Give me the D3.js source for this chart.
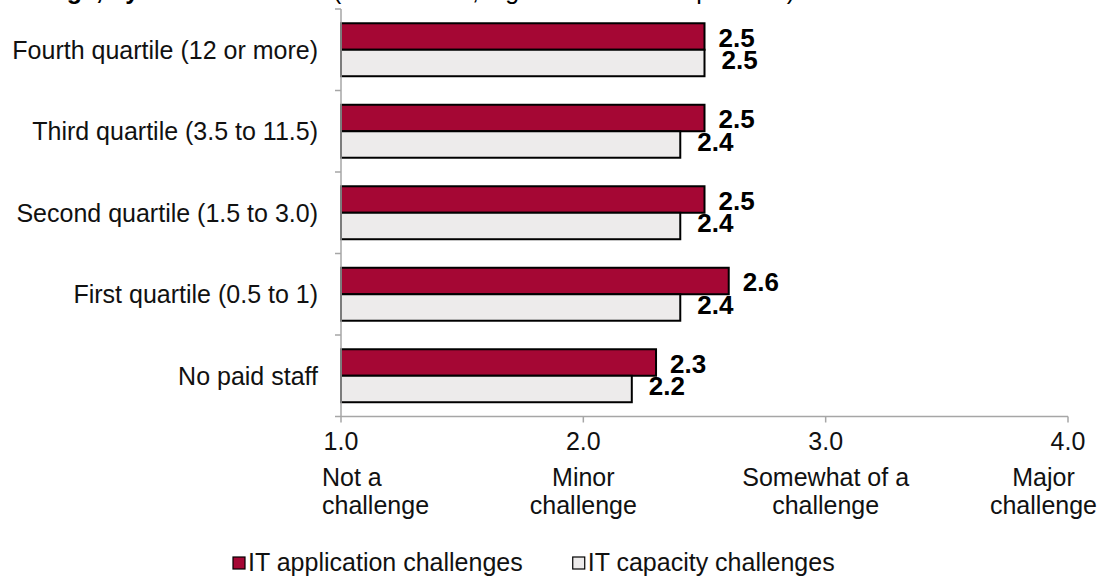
<!DOCTYPE html>
<html>
<head>
<meta charset="utf-8">
<script src="https://cdn.jsdelivr.net/npm/d3@7"></script>
<style>
    body { margin: 0; background: #fff; }
    svg { display: block; font-family: "Liberation Sans", Arial, sans-serif; }
    .axis-line { stroke: #a6a6a6; stroke-width: 1.5; fill: none; }
</style>
</head>
<body>
<svg id="chart" width="1101" height="577"></svg>
<script>
(function() {
    var categories = [
        "Fourth quartile (12 or more)",
        "Third quartile (3.5 to 11.5)",
        "Second quartile (1.5 to 3.0)",
        "First quartile (0.5 to 1)",
        "No paid staff"
    ];
    var applicationValues = [2.5, 2.5, 2.5, 2.6, 2.3];
    var capacityValues = [2.5, 2.4, 2.4, 2.4, 2.2];
    var seriesNames = ["IT application challenges", "IT capacity challenges"];
    var tickValues = [1, 2, 3, 4];
    var tickLabels = [
        ["Not a", "challenge"],
        ["Minor", "challenge"],
        ["Somewhat of a", "challenge"],
        ["Major", "challenge"]
    ];

    var colors = ["#a50734", "#edebeb"];
    var fs = "25px";

    var svg = d3.select("#chart");

    var margin = {left: 341, right: 33, top: 9, bottom: 160.5};
    var W = 1101, H = 577;

    var x = d3.scaleLinear()
        .domain([1, 4])
        .range([margin.left, W - margin.right]);

    var y = d3.scaleBand()
        .domain(categories)
        .range([margin.top, H - margin.bottom])
        .paddingInner(0.35)
        .paddingOuter(0.175);

    var sub = d3.scaleBand()
        .domain([0, 1])
        .range([0, y.bandwidth()]);

    // title, cut off by the top edge (only descenders show)
    svg.append("text")
        .attr("x", 328).attr("y", -1)
        .attr("text-anchor", "end")
        .style("font-size", "25px").style("font-weight", "bold")
        .text("IT challenge, by number of staff");
    svg.append("text")
        .attr("x", 333).attr("y", -1)
        .style("font-size", "25px")
        .text("(mean score, higher = more of a problem)");

    var rows = categories.map(function(c, i) {
        return {cat: c, vals: [applicationValues[i], capacityValues[i]]};
    });

    var g = svg.append("g");

    var groups = g.selectAll(".row")
        .data(rows)
        .enter()
        .append("g")
        .attr("class", "row")
        .attr("transform", function(d) { return "translate(0," + y(d.cat) + ")"; });

    groups.selectAll("rect")
        .data(function(d) { return d.vals; })
        .enter()
        .append("rect")
        .attr("x", x(1))
        .attr("y", function(d, i) { return sub(i); })
        .attr("width", function(d) { return x(d) - x(1); })
        .attr("height", sub.bandwidth())
        .attr("fill", function(d, i) { return colors[i]; })
        .attr("stroke", "#000")
        .attr("stroke-width", 2);

    groups.selectAll("text.val")
        .data(function(d) { return d.vals; })
        .enter()
        .append("text")
        .attr("class", "val")
        .attr("x", function(d, i) { return x(d) + (i === 0 ? 14 : 17); })
        .attr("y", function(d, i) { return sub(i) + sub.bandwidth() / 2 + (i === 0 ? 1 : -3); })
        .attr("dy", "0.35em")
        .style("font-size", "26px")
        .style("font-weight", "bold")
        .text(function(d) { return d.toFixed(1); });

    // y axis
    var step = y.step();
    var y0 = margin.top, y1 = H - margin.bottom;
    g.append("line").attr("class", "axis-line")
        .attr("x1", x(1)).attr("x2", x(1))
        .attr("y1", y0).attr("y2", y1);
    d3.range(categories.length + 1).forEach(function(i) {
        g.append("line").attr("class", "axis-line")
            .attr("x1", x(1) - 6).attr("x2", x(1))
            .attr("y1", y0 + i * step).attr("y2", y0 + i * step);
    });

    svg.selectAll(".cat")
        .data(categories)
        .enter()
        .append("text")
        .attr("class", "cat")
        .attr("x", 318)
        .attr("y", function(d) { return y(d) + y.bandwidth() / 2; })
        .attr("dy", "0.35em")
        .attr("text-anchor", "end")
        .style("font-size", fs)
        .style("fill", "#111")
        .text(function(d) { return d; });

    // x axis
    g.append("line").attr("class", "axis-line")
        .attr("x1", x(1)).attr("x2", x(4))
        .attr("y1", y1).attr("y2", y1);
    tickValues.forEach(function(v) {
        g.append("line").attr("class", "axis-line")
            .attr("x1", x(v)).attr("x2", x(v))
            .attr("y1", y1).attr("y2", y1 + 6);
    });

    svg.selectAll(".tick-num")
        .data(tickValues)
        .enter()
        .append("text")
        .attr("x", function(d) { return x(d); })
        .attr("y", y1 + 33)
        .attr("text-anchor", "middle")
        .style("font-size", fs)
        .style("fill", "#111")
        .text(function(d) { return d.toFixed(1); });

    tickLabels.forEach(function(lines, i) {
        var t = svg.append("g");
        var texts = lines.map(function(s, j) {
            return t.append("text")
                .attr("y", y1 + 69 + j * 28)
                .style("font-size", fs)
                .style("fill", "#111")
                .text(s);
        });
        var widths = texts.map(function(tt) { return tt.node().getComputedTextLength(); });
        var w = d3.max(widths);
        var left = x(tickValues[i]) - w / 2;
        var clampedLeft = left < 322;
        left = Math.max(322, Math.min(W - 4 - w, left));
        texts.forEach(function(tt) {
            if (clampedLeft) {
                tt.attr("x", left);
            } else {
                tt.attr("x", left + w / 2).attr("text-anchor", "middle");
            }
        });
    });

    // legend
    var lx = 233, ly = 562;
    seriesNames.forEach(function(name, i) {
        svg.append("rect")
            .attr("x", lx).attr("y", ly - 5)
            .attr("width", 12).attr("height", 12)
            .attr("fill", colors[i])
            .attr("stroke", "#000").attr("stroke-width", 1.2);
        var t = svg.append("text")
            .attr("x", lx + 15).attr("y", ly)
            .attr("dy", "0.35em")
            .style("font-size", fs)
            .style("fill", "#111")
            .text(name);
        lx += 15 + t.node().getComputedTextLength() + 50;
    });
}());
</script>
</body>
</html>
